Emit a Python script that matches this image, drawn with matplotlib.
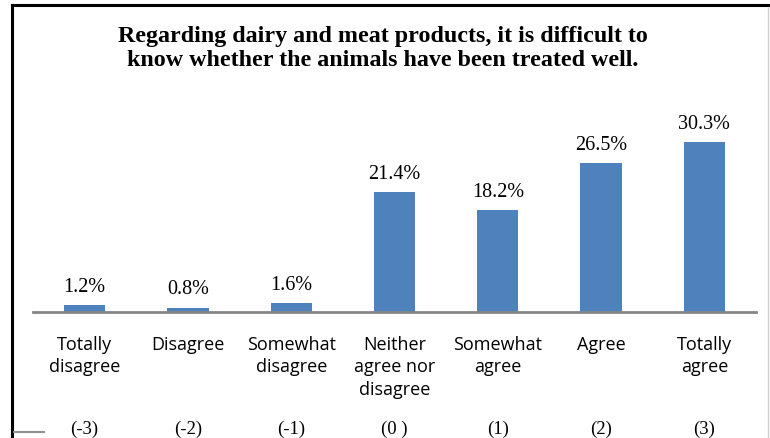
import matplotlib.pyplot as plt
from matplotlib.lines import Line2D

categories = ['Totally\ndisagree', 'Disagree', 'Somewhat\ndisagree',
              'Neither\nagree nor\ndisagree', 'Somewhat\nagree', 'Agree',
              'Totally\nagree']
codes = ['(-3)', '(-2)', '(-1)', '(0 )', '(1)', '(2)', '(3)']
values = [1.2, 0.8, 1.6, 21.4, 18.2, 26.5, 30.3]

title = ('Regarding dairy and meat products, it is difficult to\n'
         'know whether the animals have been treated well.')

W, H = 770, 438
fig = plt.figure(figsize=(W / 100, H / 100), dpi=100)
ax = fig.add_axes([33 / W, 1 - 312 / H, (756 - 33) / W, (312 - 100) / H])

x = range(len(values))
ax.bar(x, values, width=0.4, color='#4F81BD', zorder=2)
ax.set_xlim(-0.5, len(values) - 0.5)
ax.set_ylim(0, 212 / 5.61)
ax.axis('off')
ax.axhline(0, color='#868686', lw=2, zorder=3, clip_on=False)

for i, v in enumerate(values):
    ax.annotate(f'{v}%', (i, v), xytext=(0, 6), textcoords='offset points',
                ha='center', va='bottom', fontsize=14.5,
                family='Liberation Serif')
    ax.annotate(categories[i], (i, 0), xytext=(0, -17),
                textcoords='offset points', ha='center', va='top',
                fontsize=13, family='Open Sans', linespacing=1.32)
    ax.annotate(codes[i], (i, 0), xytext=(0, -78),
                textcoords='offset points', ha='center', va='top',
                fontsize=13.5, family='Liberation Serif')

fig.text(383 / W, 1 - 26 / H, title, ha='center', va='top', fontsize=17.3,
         fontweight='bold', family='Liberation Serif', linespacing=1.2)

# frame around the chart
fig.add_artist(Line2D([12 / W, 1], [1 - 5 / H, 1 - 5 / H], color='black', lw=2.2))
fig.add_artist(Line2D([12 / W, 12 / W], [0, 1 - 5 / H], color='black', lw=2.2))
fig.add_artist(Line2D([768 / W, 768 / W], [0, 1 - 7 / H], color='#d0d0d0', lw=1))
fig.add_artist(Line2D([14 / W, 44 / W], [1 - 432 / H, 1 - 432 / H], color='#909090', lw=1.5))

fig.savefig('out.png', dpi=100)
